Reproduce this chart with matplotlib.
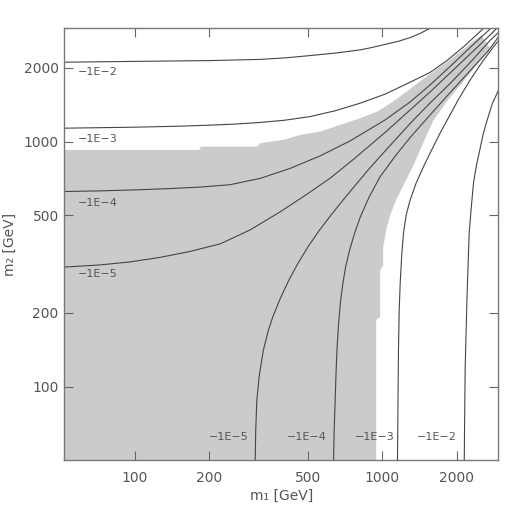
import matplotlib
matplotlib.use('Agg')
import matplotlib.pyplot as plt
from matplotlib.ticker import FixedLocator, FixedFormatter, NullLocator

# axis ranges and ticks
xlim = (51.7, 2950)
ylim = (50.2, 2900)
ticks = [100, 200, 500, 1000, 2000]
tick_labels = ['100', '200', '500', '1000', '2000']

# shaded region (m1, m2) boundary
region_m1 = [40, 40, 181.6, 185, 311.9, 320.7, 397.3, 465.6, 561, 676, 815, 954.5,
             1108, 1298, 1564, 1833, 2168, 2425, 2517, 2736, 2209, 1833, 1609,
             1466, 1335, 1216, 1139, 1077.5, 1038, 1009, 1009, 981.5, 981.5,
             945.5, 945.5]
region_m2 = [40, 925, 925, 954, 954, 985, 1016, 1065, 1098, 1170, 1246, 1326,
             1457, 1641, 1889, 2115, 2412, 2651, 2714, 2412, 1837, 1466, 1215,
             988, 796, 659.6, 578, 502, 436, 368, 311, 299.5, 192.5,
             187.2, 40]

# contour lines, upper branches (m2 roughly constant at small m1)
h2_m1 = [45, 100, 201, 321, 404.8, 511, 645.4, 815, 911, 1028, 1161, 1298, 1425, 1564, 1717]
h2_m2 = [2105, 2125, 2141, 2165, 2196, 2244, 2297, 2368, 2422, 2493, 2565, 2658, 2764, 2903, 3034]
h3_m1 = [45, 100, 152.1, 201, 254.1, 320.7, 404.8, 511, 645.4, 815, 1028, 1298,
         1564, 1833, 2168, 2494, 2612]
h3_m2 = [1132, 1145, 1156, 1167, 1179, 1197, 1223, 1265, 1336, 1435, 1562, 1748,
         1916, 2145, 2470, 2817, 2939]
h4_m1 = [45, 72.2, 100, 138.6, 183.3, 242.4, 320.7, 424.2, 561, 742, 1028, 1298,
         1564, 1885, 2272, 2736, 2841]
h4_m2 = [624, 629.3, 635.3, 643.1, 652.2, 667, 707.6, 777.4, 874.2, 1006.7, 1226,
         1452, 1704, 2027, 2424, 2884, 2981]
h5_m1 = [45, 72.2, 95.4, 126.2, 167, 220.9, 292.1, 386.4, 487.9, 615.9, 777.5,
         1028, 1298, 1564, 1885, 2272, 2736, 2977]
h5_m2 = [305, 313.9, 322.8, 336.9, 356.3, 382.4, 436.1, 516.6, 603.1, 708.9, 858,
         1090, 1347, 1596, 1907, 2280, 2726, 2967]

# contour lines, right branches (m1 roughly constant at small m2)
v5_m1 = [306.1, 307.8, 311, 318.4, 330.7, 346.5, 361.3, 384.6, 419.5, 459.6, 501.6,
         558.5, 621.6, 695.2, 781.1, 877.7, 986, 1129, 1304, 1564, 1877, 2272,
         2736, 3090]
v5_m2 = [47.9, 66.6, 88.2, 111.6, 141.2, 170.3, 193.1, 225.9, 272.6, 322.8, 372.8,
         436.1, 502, 578.1, 665.7, 766.3, 874.2, 1016, 1192, 1439, 1720, 2105,
         2589, 2912]
v4_m1 = [635.2, 639.4, 645.4, 650.1, 656.2, 665.5, 679.2, 693.9, 711.6, 738.6,
         774.1, 816.8, 886.1, 981.5, 1139, 1304, 1550, 1833, 2209, 2687, 2957, 3061]
v4_m2 = [47.9, 66.6, 88.2, 111.6, 141.2, 178.5, 225.9, 265.1, 308.9, 361.4,
         424.1, 494.1, 594.8, 719.6, 882.5, 1045, 1273, 1537, 1889, 2345, 2676, 2778]
v3_m1 = [1153, 1159, 1164, 1172, 1183, 1200, 1220, 1251, 1298, 1373, 1470, 1586,
         1717, 2031, 2272, 2540, 2841, 2977]
v3_m2 = [47.9, 88.2, 141.2, 205.6, 265.1, 344.9, 424.1, 502, 578.1, 678.3, 790.7,
         925, 1085, 1480, 1786, 2115, 2458, 2601]
v2_m1 = [2148, 2156, 2168, 2203, 2226, 2250, 2293, 2342, 2409, 2494, 2564, 2662,
         2788, 2936, 3047]
v2_m2 = [47.9, 73.1, 120.7, 225.9, 311, 424.1, 536.3, 678.3, 803.5, 942.6, 1075,
         1227, 1425, 1596, 1720]

left_levels = ['\u22121E\u22122', '\u22121E\u22123', '\u22121E\u22124', '\u22121E\u22125']
bottom_levels = ['\u22121E\u22125', '\u22121E\u22124', '\u22121E\u22123', '\u22121E\u22122']

fig = plt.figure(figsize=(5.18, 5.18), dpi=100)
ax = fig.add_axes([0.1241, 0.1120, 0.8378, 0.8334])
ax.set_xscale('log')
ax.set_yscale('log')

ax.fill(region_m1, region_m2, color='#cbcbcb', lw=0, zorder=1)

lc = '#454545'
for xs, ys in [(h2_m1, h2_m2), (h3_m1, h3_m2), (h4_m1, h4_m2), (h5_m1, h5_m2),
               (v5_m1, v5_m2), (v4_m1, v4_m2), (v3_m1, v3_m2), (v2_m1, v2_m2)]:
    ax.plot(xs, ys, color=lc, lw=0.8, zorder=2)

ax.set_xlim(*xlim)
ax.set_ylim(*ylim)

tc = '#555555'
left_y = [0.898, 0.743, 0.595, 0.431]
for lab, yy in zip(left_levels, left_y):
    ax.text(0.032, yy, lab, transform=ax.transAxes, fontsize=8, color=tc,
            ha='left', va='center', zorder=3)
bottom_x = [0.4256, 0.605, 0.762, 0.905]
for lab, xx in zip(bottom_levels, bottom_x):
    ax.text(xx, 0.053, lab, transform=ax.transAxes, fontsize=8, color=tc,
            ha='right', va='center', zorder=3)

for axis in (ax.xaxis, ax.yaxis):
    axis.set_major_locator(FixedLocator(ticks))
    axis.set_major_formatter(FixedFormatter(tick_labels))
    axis.set_minor_locator(NullLocator())

ax.tick_params(direction='in', length=6.2, width=0.8, color='#666666',
               labelcolor=tc, labelsize=10, top=True, right=True)
ax.tick_params(axis='x', pad=8)
ax.tick_params(axis='y', pad=4)
for s in ax.spines.values():
    s.set_color('#777777')
    s.set_linewidth(1.0)

ax.set_xlabel('m\u2081 [GeV]', fontsize=10, color=tc, labelpad=3)
ax.set_ylabel('m\u2082 [GeV]', fontsize=10, color=tc)
ax.yaxis.set_label_coords(-0.11, 0.5)

fig.savefig('out.png', dpi=100)
